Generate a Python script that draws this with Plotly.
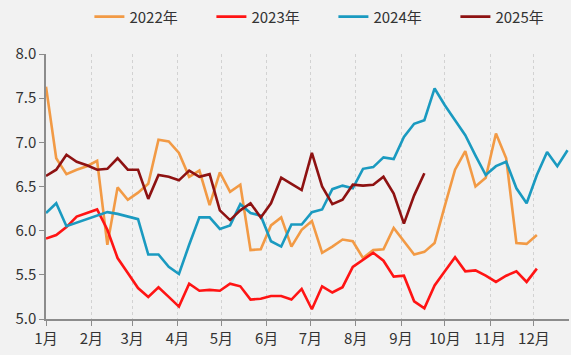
import pandas as pd
import plotly.graph_objects as go

# weekly observations, starting on 1 Jan of each year
s2022 = [7.63, 6.82, 6.64, 6.69, 6.73, 6.79, 5.84, 6.49, 6.35, 6.43, 6.53, 7.03, 7.01, 6.88,
         6.61, 6.68, 6.29, 6.66, 6.44, 6.52, 5.78, 5.79, 6.06, 6.15, 5.82, 6.01, 6.11, 5.75,
         5.82, 5.90, 5.88, 5.69, 5.78, 5.79, 6.03, 5.88, 5.73, 5.76, 5.86, 6.28, 6.69, 6.90,
         6.50, 6.60, 7.10, 6.82, 5.86, 5.85, 5.95]
s2023 = [5.91, 5.95, 6.04, 6.16, 6.20, 6.24, 6.01, 5.69, 5.52, 5.35, 5.25, 5.36, 5.25, 5.14,
         5.40, 5.32, 5.33, 5.32, 5.40, 5.37, 5.22, 5.23, 5.26, 5.26, 5.22, 5.34, 5.11, 5.37,
         5.30, 5.36, 5.59, 5.67, 5.75, 5.66, 5.48, 5.49, 5.20, 5.12, 5.38, 5.54, 5.70, 5.54,
         5.55, 5.49, 5.42, 5.49, 5.54, 5.42, 5.57]
s2024 = [6.20, 6.31, 6.05, 6.09, 6.13, 6.17, 6.21, 6.19, 6.16, 6.13, 5.73, 5.73, 5.59, 5.51,
         5.84, 6.15, 6.15, 6.02, 6.06, 6.30, 6.20, 6.17, 5.88, 5.82, 6.07, 6.07, 6.21, 6.24,
         6.47, 6.51, 6.48, 6.70, 6.72, 6.83, 6.81, 7.06, 7.21, 7.25, 7.61, 7.42, 7.25, 7.08,
         6.85, 6.63, 6.73, 6.78, 6.48, 6.31, 6.63, 6.89, 6.73, 6.91]
s2025 = [6.62, 6.69, 6.86, 6.78, 6.74, 6.69, 6.70, 6.82, 6.69, 6.69, 6.36, 6.63, 6.61, 6.57,
         6.68, 6.61, 6.64, 6.23, 6.12, 6.23, 6.31, 6.15, 6.31, 6.60, 6.53, 6.46, 6.88, 6.50,
         6.30, 6.35, 6.52, 6.51, 6.52, 6.61, 6.42, 6.08, 6.40, 6.65]

series_names = ["2022年", "2023年", "2024年", "2025年"]
month_labels = ["1月", "2月", "3月", "4月", "5月", "6月", "7月", "8月", "9月", "10月", "11月", "12月"]

colors = ["#F29A45", "#FF1414", "#1A9AC0", "#8E1212"]

base_year = 2001
month_ticks = pd.date_range(f"{base_year}-01-01", periods=12, freq="MS")

fig = go.Figure()
for name, vals, col in zip(series_names, [s2022, s2023, s2024, s2025], colors):
    x = pd.date_range(f"{base_year}-01-01", periods=len(vals), freq="7D")
    fig.add_trace(go.Scatter(x=x, y=vals, mode="lines", name=name,
                             line=dict(color=col, width=2.6)))

font_family = "Noto Sans CJK SC, Noto Sans, sans-serif"

fig.update_layout(
    width=571, height=355,
    margin=dict(l=46, r=2, t=54, b=36, autoexpand=False),
    paper_bgcolor="#F2F2F2", plot_bgcolor="#F2F2F2",
    font=dict(family=font_family, size=14, color="#333333"),
    showlegend=True,
    legend=dict(orientation="h", x=0.083, xanchor="left", y=1.14, yanchor="middle",
                entrywidth=77, entrywidthmode="pixels",
                font=dict(size=15, color="#333333"), bgcolor="rgba(0,0,0,0)",
                itemwidth=30, tracegroupgap=0),
    xaxis=dict(type="date", range=[f"{base_year}-01-01", f"{base_year}-12-25"],
               tickvals=list(month_ticks), ticktext=month_labels,
               showgrid=True, gridcolor="#D2D2D2", griddash="dot", gridwidth=1,
               showline=True, linecolor="#8C8C8C", linewidth=1.5,
               ticks="outside", ticklen=5, tickcolor="#8C8C8C",
               tickfont=dict(size=15), zeroline=False),
    yaxis=dict(range=[5, 8], dtick=0.5, tickformat=".1f",
               showgrid=False, showline=True, linecolor="#8C8C8C", linewidth=1.5,
               ticks="outside", ticklen=5, tickcolor="#8C8C8C",
               tickfont=dict(size=15), zeroline=False),
)

fig.write_html(
    "out.html",
    config={"displayModeBar": False},
    post_script="document.body.style.margin='0';document.body.style.overflow='hidden';"
                "document.body.style.background='#F2F2F2';",
)
